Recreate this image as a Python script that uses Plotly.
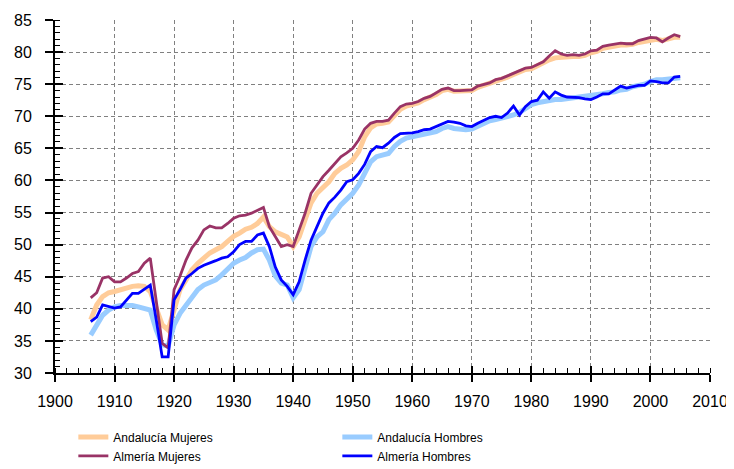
import plotly.graph_objects as go

years = list(range(1906, 2006))

andalucia_mujeres = [
    38.3, 40.6, 41.9, 42.5, 42.7, 43.0, 43.2, 43.5, 43.6, 43.5,
    42.7, 40.3, 37.5, 36.7, 39.8, 43.0, 44.5, 46.1, 47.1, 47.9,
    48.7, 49.2, 49.7, 50.5, 51.3, 51.8, 52.4, 52.7, 53.3, 54.3,
    52.8, 52.0, 51.5, 51.2, 49.7, 51.2, 53.9, 56.5, 58.0, 58.8,
    59.8, 61.1, 61.9, 62.4, 63.2, 64.5, 66.8, 68.2, 68.8, 68.9,
    69.1, 70.1, 71.1, 71.6, 71.8, 72.1, 72.6, 72.9, 73.4, 74.0,
    74.2, 73.9, 73.9, 73.9, 74.0, 74.5, 74.8, 75.0, 75.5, 75.7,
    76.1, 76.5, 76.9, 77.3, 77.4, 77.9, 78.3, 78.8, 79.1, 79.2,
    79.2, 79.3, 79.3, 79.5, 79.9, 80.1, 80.6, 80.8, 81.0, 81.1,
    81.1, 81.2, 81.5, 81.7, 81.9, 82.0, 81.8, 82.0, 82.3, 82.3,
]

andalucia_hombres = [
    35.9, 37.5, 39.0, 39.8, 40.3, 40.5, 40.5, 40.5, 40.3, 40.1,
    39.8, 36.7, 34.4, 34.2, 37.5, 39.3, 40.6, 41.9, 43.0, 43.7,
    44.2, 44.5, 45.3, 46.1, 47.1, 47.6, 48.0, 48.7, 49.2, 49.3,
    47.6, 45.1, 44.0, 43.7, 41.7, 43.0, 46.1, 49.7, 51.2, 52.0,
    53.9, 54.9, 56.2, 57.0, 58.0, 59.3, 61.3, 62.9, 63.7, 64.0,
    64.2, 65.3, 66.1, 66.6, 66.8, 66.9, 67.1, 67.3, 67.6, 68.1,
    68.4, 68.1, 68.0, 67.9, 68.0, 68.4, 69.0, 69.3, 69.5, 69.7,
    69.9, 70.2, 70.6, 71.2, 71.8, 72.1, 72.3, 72.5, 72.6, 72.6,
    72.7, 72.9, 73.0, 73.1, 73.3, 73.4, 73.5, 73.7, 73.8, 74.1,
    74.2, 74.6, 74.8, 75.0, 75.4, 75.7, 75.7, 75.8, 76.0, 76.0,
]

almeria_mujeres = [
    41.7, 42.5, 44.8, 45.0, 44.2, 44.2, 44.8, 45.5, 45.8, 47.1,
    47.9, 41.4, 34.6, 33.9, 43.0, 45.1, 47.6, 49.5, 50.7, 52.3,
    52.9, 52.6, 52.6, 53.3, 54.1, 54.5, 54.6, 54.9, 55.4, 55.8,
    52.8, 51.2, 49.7, 50.0, 49.7, 52.3, 54.9, 58.0, 59.3, 60.6,
    61.6, 62.7, 63.7, 64.3, 65.0, 66.3, 68.0, 68.9, 69.2, 69.2,
    69.4, 70.5, 71.5, 71.9, 72.0, 72.3, 72.8, 73.1, 73.6, 74.2,
    74.4, 74.0, 74.0, 74.0, 74.1, 74.7, 75.0, 75.2, 75.7, 75.9,
    76.3, 76.7, 77.1, 77.5, 77.6, 78.1, 78.5, 79.4, 80.2, 79.7,
    79.5, 79.6, 79.5, 79.7, 80.2, 80.3, 80.9, 81.1, 81.2, 81.4,
    81.3, 81.3, 81.8, 82.0, 82.3, 82.2, 81.6, 82.2, 82.7, 82.4,
]

almeria_hombres = [
    38.0, 38.7, 40.6, 40.3, 40.1, 40.3, 41.4, 42.4, 42.4, 43.0,
    43.7, 38.3, 32.5, 32.5, 41.4, 43.0, 44.8, 45.5, 46.3, 46.8,
    47.1, 47.5, 47.9, 48.1, 48.9, 50.0, 50.5, 50.5, 51.5, 51.8,
    49.7, 46.5, 44.5, 43.5, 42.2, 44.2, 47.6, 50.7, 52.8, 54.9,
    56.5, 57.4, 58.5, 59.8, 60.1, 61.1, 62.5, 64.5, 65.3, 65.1,
    65.8, 66.7, 67.3, 67.3, 67.4, 67.6, 67.9, 68.0, 68.4, 68.9,
    69.2, 69.1, 68.9, 68.5, 68.4, 68.9, 69.4, 69.8, 70.0, 69.8,
    70.5, 71.6, 70.2, 71.5, 72.3, 72.5, 73.8, 72.8, 73.8, 73.3,
    73.0, 73.0, 72.9, 72.7, 72.6, 73.0, 73.5, 73.5, 74.1, 74.7,
    74.4, 74.6, 74.8, 74.8, 75.5, 75.4, 75.2, 75.2, 76.1, 76.2,
]

series = [
    ("Andalucía Mujeres", andalucia_mujeres, "#FFCC99", 5),
    ("Andalucía Hombres", andalucia_hombres, "#99CCFF", 5),
    ("Almería Mujeres", almeria_mujeres, "#993366", 2.8),
    ("Almería Hombres", almeria_hombres, "#0000FF", 2.8),
]

FONT = "Liberation Sans, Arial, sans-serif"

fig = go.Figure()
for name, vals, color, w in series:
    fig.add_trace(go.Scatter(x=years, y=vals, name=name, mode="lines",
                             line=dict(color=color, width=w)))

# invisible helper trace for the overlay axes (inside half of crossing ticks)
fig.add_trace(go.Scatter(x=[1900], y=[30], xaxis="x2", yaxis="y2", mode="markers",
                         marker=dict(opacity=0), showlegend=False, hoverinfo="skip"))

axis_common = dict(
    showline=True, linecolor="black", linewidth=2,
    tickcolor="black", tickwidth=1.5,
    gridcolor="#808080", griddash="4px,3px", gridwidth=1,
    zeroline=False,
    tickfont=dict(family=FONT, size=16, color="black"),
)

fig.update_layout(
    width=726, height=461,
    margin=dict(l=47, r=24, t=12, b=96, autoexpand=False),
    paper_bgcolor="white", plot_bgcolor="white",
    showlegend=True,
    legend=dict(orientation="h", x=0.028, xanchor="left", y=-0.14, yanchor="top",
                entrywidth=219, tracegroupgap=0, itemwidth=30,
                font=dict(family=FONT, size=12, color="black"),
                bgcolor="rgba(0,0,0,0)"),
    xaxis=dict(range=[1900, 2010], dtick=10, tick0=1900, ticks="outside", ticklen=7,
               ticklabelstandoff=6,
               minor=dict(dtick=2, ticks="inside", ticklen=5, tickcolor="black", tickwidth=1, showgrid=False),
               **axis_common),
    yaxis=dict(range=[30, 85], dtick=5, tick0=30, ticks="outside", ticklen=8,
               ticklabelstandoff=10,
               minor=dict(dtick=1, ticks="inside", ticklen=5, tickcolor="black", tickwidth=1, showgrid=False),
               **axis_common),
    xaxis2=dict(range=[1900, 2010], dtick=10, tick0=1900, overlaying="x", ticks="inside", ticklen=7,
                tickcolor="black", tickwidth=1.5, showticklabels=False, showgrid=False,
                showline=False, zeroline=False),
    yaxis2=dict(range=[30, 85], dtick=5, tick0=30, overlaying="y", ticks="inside", ticklen=8,
                tickcolor="black", tickwidth=1.5, showticklabels=False, showgrid=False,
                showline=False, zeroline=False),
)

fig.write_html("out.html")
